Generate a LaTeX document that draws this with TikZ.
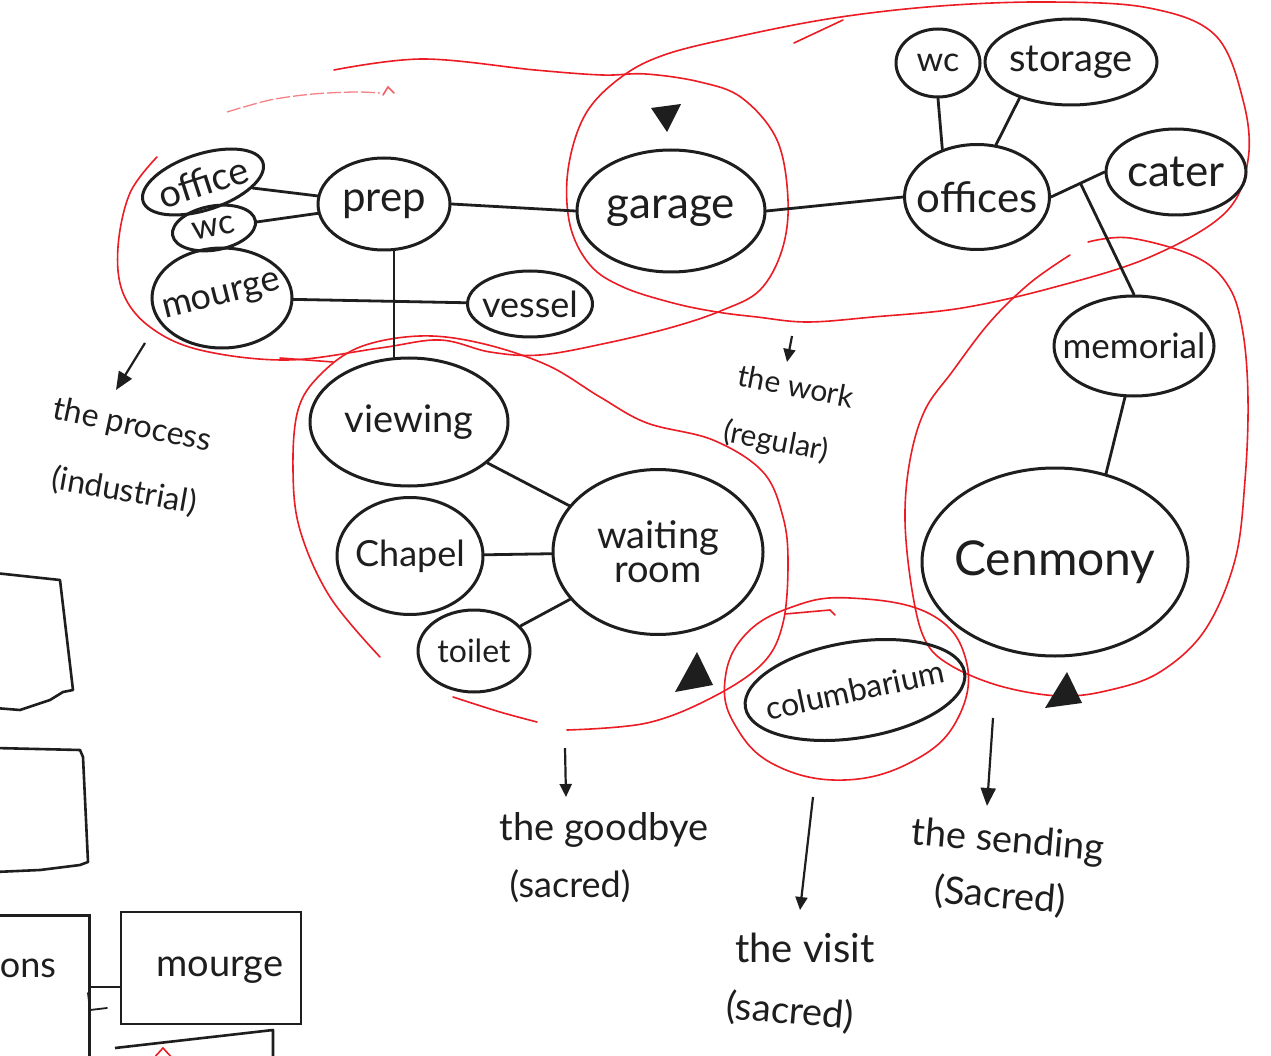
\documentclass[tikz,border=0pt]{standalone}
\usepackage{fontspec}
\setmainfont{Lato}
\usetikzlibrary{shapes.geometric,arrows.meta,calc}
\definecolor{ink}{RGB}{30,30,30}
\definecolor{pen}{RGB}{236,28,36}
\newcommand\fz[1]{\fontsize{#1}{#1}\selectfont}
\begin{document}
\begin{tikzpicture}[x=1pt,y=-1pt,
 bub/.style={draw=ink,line width=3pt,ellipse,inner sep=0pt},
 txt/.style={text=ink,inner sep=0pt,align=center},
 link/.style={draw=ink,line width=2.8pt,line cap=round},
 arr/.style={draw=ink,line width=2.2pt,-{Triangle[length=18pt,width=15pt]}},
 arrs/.style={draw=ink,line width=2.2pt,-{Triangle[length=13pt,width=12pt]}},
 zone/.style={draw=pen,line width=1.6pt,line cap=round},
 faint/.style={draw=pen!55,line width=1.3pt,dash pattern=on 14pt off 3pt},
 boxline/.style={draw=ink,line width=2.6pt,line join=round}]

\fill[white] (0,0) rectangle (1271,1056);
\useasboundingbox (0,0) rectangle (1271,1056);

% ---------------- red zones ----------------
\draw[zone] plot[smooth,tension=0.6] coordinates {(157,157) (130,193) (118,247) (123,293) (150,327) (200,350) (287,360) (380,348) (440,340) (490,352) (540,355) (607,343) (673,327) (723,310) (760,290) (782,250) (788,200) (777,140) (742,98) (700,82) (646,74) (602,75) (535,70) (423,59) (334,70)};
\draw[zone] plot[smooth cycle,tension=0.6] coordinates {(873,317) (807,322) (757,317) (717,312) (673,303) (623,287) (590,265) (570,225) (568,170) (585,115) (620,78) (664,55) (736,37) (834,18) (940,6) (1050,2) (1149,8) (1215,35) (1243,100) (1248,160) (1225,213) (1150,257) (1055,287) (962,308)};
\draw[zone] (794,43) -- (843,20);
\draw[faint] plot[smooth] coordinates {(227,112) (270,100) (313,94) (355,92) (380,93)};
\draw[zone,draw=pen!70] (383,95) -- (388,87) -- (394,93);

\draw[zone] plot[smooth,tension=0.6] coordinates {(380,657) (330,597) (300,530) (293,470) (298,410) (320,375) (360,347) (420,336) (480,343) (547,365) (600,397) (647,423) (713,440) (763,472) (783,517) (788,563) (783,623) (763,663) (713,697) (647,723) (567,730)};
\draw[zone] plot[smooth] coordinates {(453,697) (500,712) (537,722)};
\draw[zone] (280,358) -- (333,362);

\draw[zone] plot[smooth cycle,tension=0.7] coordinates {(850,598) (930,614) (966,660) (958,718) (915,760) (845,780) (775,765) (735,725) (725,680) (745,635) (792,607)};
\draw[zone] (785,614) -- (830,610) -- (835,615);

\draw[zone] plot[smooth,tension=0.6] coordinates {(1088,242) (1130,238) (1196,257) (1229,287) (1243,333) (1248,400) (1245,480) (1235,560) (1205,630) (1160,672) (1110,690) (1060,696) (1000,686) (950,665) (925,640) (912,590) (905,520) (910,460) (925,410) (952,372) (990,322) (1030,283) (1070,255)};

% ---------------- nodes ----------------
\node[bub,minimum width=126pt,minimum height=56pt,rotate=18] (office) at (203,182) {};
\node[bub,minimum width=84pt,minimum height=44pt,rotate=10] (wcA) at (214,228) {};
\node[bub,minimum width=140pt,minimum height=100pt] (mourge) at (222,298) {};
\node[bub,minimum width=132pt,minimum height=92pt] (prep) at (384,204) {};
\node[bub,minimum width=125pt,minimum height=66pt] (vessel) at (530,304) {};
\node[bub,minimum width=188pt,minimum height=122pt] (garage) at (671,211) {};
\node[bub,minimum width=145pt,minimum height=105pt] (offices) at (977,197) {};
\node[bub,minimum width=84pt,minimum height=68pt] (wcB) at (938,63) {};
\node[bub,minimum width=172pt,minimum height=86pt] (storage) at (1071,62) {};
\node[bub,minimum width=140pt,minimum height=86pt] (cater) at (1176,172) {};
\node[bub,minimum width=160pt,minimum height=100pt] (memorial) at (1134,346) {};
\node[bub,minimum width=266pt,minimum height=188pt] (cere) at (1055,562) {};
\node[bub,minimum width=198pt,minimum height=128pt] (viewing) at (409,422) {};
\node[bub,minimum width=210pt,minimum height=165pt] (waiting) at (658,552) {};
\node[bub,minimum width=146pt,minimum height=117pt] (chapel) at (410,556) {};
\node[bub,minimum width=112pt,minimum height=82pt] (toilet) at (474,651) {};
\node[bub,minimum width=222pt,minimum height=96pt,rotate=9] (colum) at (855,690) {};

\node[txt,font=\fz{38},rotate=18] (officeT) at (office.center) {office};
\node[txt,font=\fz{34},rotate=12] (wcAT) at (wcA.center) {wc};
\node[txt,font=\fz{36},rotate=14] (mourgeT) at (mourge.center) {mourge};
\node[txt,font=\fz{42}] (prepT) at (prep.center) {prep};
\node[txt,font=\fz{36}] (vesselT) at (vessel.center) {vessel};
\node[txt,font=\fz{44}] (garageT) at (garage.center) {garage};
\node[txt,font=\fz{42}] (officesT) at (offices.center) {offices};
\node[txt,font=\fz{34}] (wcBT) at (wcB.center) {wc};
\node[txt,font=\fz{38}] (storageT) at (storage.center) {storage};
\node[txt,font=\fz{44}] (caterT) at (cater.center) {cater};
\node[txt,font=\fz{35}] (memorialT) at (memorial.center) {memorial};
\node[txt,font=\fz{48}] (cereT) at (cere.center) {Cenmony};
\node[txt,font=\fz{38}] (viewingT) at (viewing.center) {viewing};
\node[txt,font=\fontsize{38}{34}\selectfont] (waitingT) at (waiting.center) {waiting\\room};
\node[txt,font=\fz{36}] (chapelT) at (chapel.center) {Chapel};
\node[txt,font=\fz{32}] (toiletT) at (toilet.center) {toilet};
\node[txt,font=\fz{32},rotate=12] (columT) at (colum.center) {columbarium};

% ---------------- connectors ----------------
\draw[link] (office) -- (prep);
\draw[link] (wcA) -- (prep);
\draw[link] (mourge) -- (vessel);
\draw[link] (prep.-78) -- (prep.-78 |- viewing.north);
\draw[link] (prep.east) -- (garage.west);
\draw[link] (garage.east) -- (offices.west);
\draw[link] (wcB.south) -- (offices.126);
\draw[link] (storage.215) -- (offices.70);
\draw[link] (offices.east) -- (cater.west);
\coordinate (jn) at ($(offices.east)!0.55!(cater.west)$);
\draw[link] (jn) -- (memorial.north);
\draw[link] (memorial.-100) -- (cere.60);
\draw[link] (viewing) -- (waiting);
\draw[link] (chapel) -- (waiting);
\draw[link] (toilet) -- (waiting);

% ---------------- group labels ----------------
\node[txt,font=\fz{32},rotate=-12] (procT) at (132,426) {the process};
\node[txt,font=\fz{32},rotate=-10] (indT) at (124,491) {(industrial)};
\node[txt,font=\fz{30},rotate=-11] (workT) at (796,386) {the work};
\node[txt,font=\fz{30},rotate=-11] (regT) at (776,442) {(regular)};
\node[txt,font=\fz{38}] (goodT) at (604,830) {the goodbye};
\node[txt,font=\fz{36}] (sacA) at (570,886) {(sacred)};
\node[txt,font=\fz{40}] (visitT) at (805,948) {the visit};
\node[txt,font=\fz{38},rotate=-5] (sacB) at (790,1012) {(sacred)};
\node[txt,font=\fz{38},rotate=-5] (sendT) at (1008,842) {the sending};
\node[txt,font=\fz{38},rotate=-5] (sacC) at (1000,896) {(Sacred)};

\coordinate (pa) at (145,343); \coordinate (pb) at (116,390);
\draw[arr] (pa) -- (pb);
\coordinate (wa) at (792,336); \coordinate (wb) at (787,362);
\draw[arrs] (wa) -- (wb);
\coordinate (ga) at (565,748); \coordinate (gb) at (566,797);
\draw[arrs] (ga) -- (gb);
\coordinate (va) at (813,797); \coordinate (vb) at (800,910);
\draw[arrs] (va) -- (vb);
\coordinate (sa) at (993,718); \coordinate (sb) at (987,806);
\draw[arr] (sa) -- (sb);

% stray arrow heads
\fill[ink] (651,108) -- (681,104) -- (667,132) -- cycle;
\fill[ink] (697,652) -- (675,692) -- (713,685) -- cycle;
\fill[ink] (1067,672) -- (1045,708) -- (1082,703) -- cycle;

% ---------------- bottom-left boxes ----------------
\draw[boxline] (-5,573) -- (60,580) -- (73,690) -- (63,692) -- (50,700) -- (20,710) -- (-5,708);
\draw[boxline] (-5,748) -- (80,750) -- (83,757) -- (88,862) -- (80,865) -- (40,870) -- (-5,872);
\node[draw=ink,line width=2.6pt,minimum width=180pt,minimum height=180pt,anchor=north east] (onsbox) at (91,914) {};
\node[txt,font=\fz{36}] (onsT) at (28,968) {ons};
\node[draw=ink,line width=2.6pt,minimum width=180pt,minimum height=112pt] (mbox) at (211,968) {};
\node[txt,font=\fz{38}] (mboxT) at (220,970) {mourge};
\coordinate (mj) at (104,987);
\draw[link] (onsbox.east |- mj) -- (mbox.west |- mj);
\draw[link,line width=1.8pt] (88,993) -- (90,1010) -- (107,1008);
\draw[boxline] (115,1048) -- (273,1030) -- (273,1060);
\draw[zone] (152,1060) -- (163,1048) -- (174,1060);
\end{tikzpicture}
\end{document}
